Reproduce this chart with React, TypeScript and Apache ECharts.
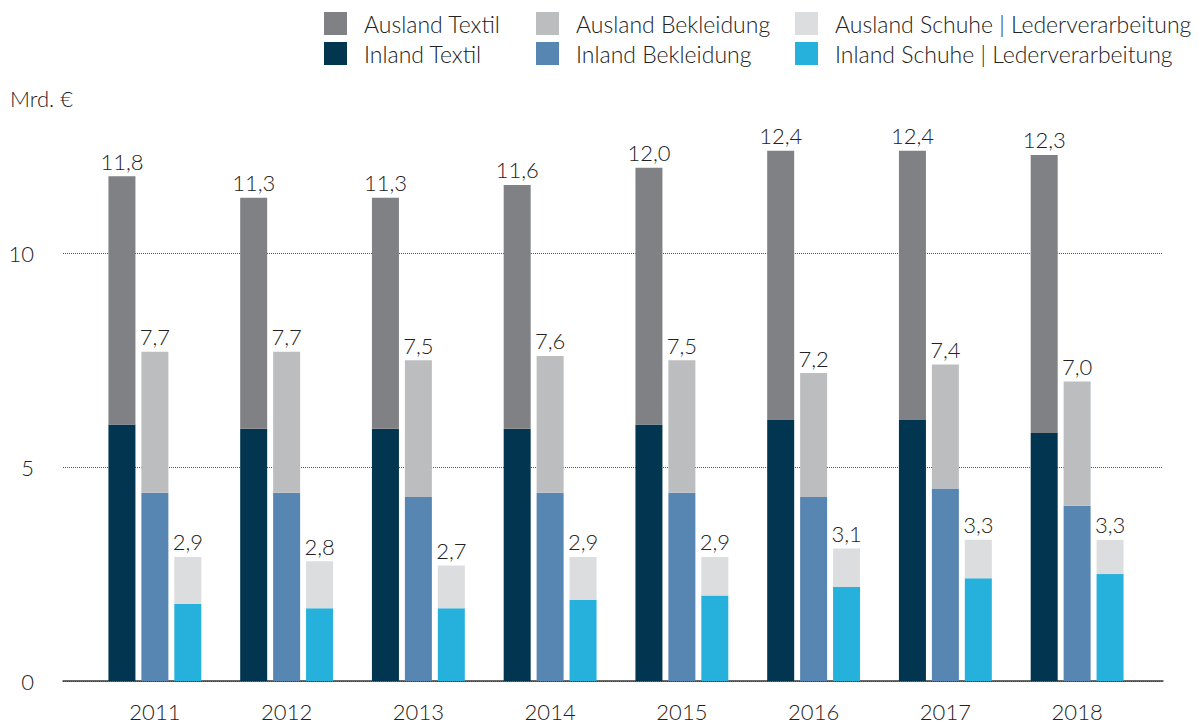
import React, { useEffect, useRef } from "react";
import * as echarts from "echarts";

const years = ["2011", "2012", "2013", "2014", "2015", "2016", "2017", "2018"];
const inlandTextil = [6.0, 5.9, 5.9, 5.9, 6.0, 6.1, 6.1, 5.8];
const auslandTextil = [5.8, 5.4, 5.4, 5.7, 6.0, 6.3, 6.3, 6.5];
const inlandBekleidung = [4.4, 4.4, 4.3, 4.4, 4.4, 4.3, 4.5, 4.1];
const auslandBekleidung = [3.3, 3.3, 3.2, 3.2, 3.1, 2.9, 2.9, 2.9];
const inlandSchuhe = [1.8, 1.7, 1.7, 1.9, 2.0, 2.2, 2.4, 2.5];
const auslandSchuhe = [1.1, 1.1, 1.0, 1.0, 0.9, 0.9, 0.9, 0.8];
const yTicks = [0, 5, 10];

const FONT = "Lato";
const TXT = "#222222";
const NUM_SIZE = 22;

const fmt = (v: number) => v.toFixed(1).replace(".", ",");

export default function App() {
  const ref = useRef<HTMLDivElement>(null);
  useEffect(() => {
    if (!ref.current) return;
    const chart = echarts.init(ref.current, null, { renderer: "svg" });
    const sumLabel = (inl: number[], aus: number[]) => ({
      show: true,
      position: "top" as const,
      distance: 4,
      color: TXT,
      fontFamily: FONT,
      fontWeight: 300 as any,
      fontSize: NUM_SIZE,
      formatter: (p: any) => fmt(inl[p.dataIndex] + aus[p.dataIndex]),
    });
    const barCommon = {
      type: "bar" as const,
      xAxisIndex: 1,
      yAxisIndex: 1,
      barWidth: 27,
      barGap: "22%",
    };
    const legendCommon = {
      orient: "vertical" as const,
      top: 7,
      itemWidth: 23,
      itemHeight: 23,
      itemGap: 7,
      icon: "rect",
      textStyle: {
        fontFamily: FONT,
        fontWeight: 300 as any,
        fontSize: 23,
        color: TXT,
        padding: [0, 0, 0, 12],
      },
    };
    chart.setOption({
      animation: false,
      textStyle: { fontFamily: FONT },
      legend: [
        { ...legendCommon, left: 319, data: ["Ausland Textil", "Inland Textil"] },
        { ...legendCommon, left: 531, data: ["Ausland Bekleidung", "Inland Bekleidung"] },
        {
          ...legendCommon,
          left: 790,
          data: ["Ausland Schuhe | Lederverarbeitung", "Inland Schuhe | Lederverarbeitung"],
        },
      ],
      graphic: [
        {
          type: "text",
          left: 10,
          top: 87,
          style: { text: "Mrd. €", fill: TXT, font: `300 22px ${FONT}` },
        },
      ],
      grid: [
        { left: 63, right: 35, top: 253, bottom: 43 },
        { left: 89, right: 55, top: 125, bottom: 43 },
      ],
      xAxis: [
        {
          gridIndex: 0,
          type: "value",
          min: 0,
          max: 1,
          axisLine: { show: true, onZero: false, lineStyle: { color: "#3a3a3a", width: 1.5 } },
          axisTick: { show: false },
          axisLabel: { show: false },
          splitLine: { show: false },
        },
        {
          gridIndex: 1,
          type: "category",
          data: years,
          axisLine: { show: false },
          axisTick: { show: false },
          axisLabel: {
            color: TXT,
            fontFamily: FONT,
            fontWeight: 300,
            fontSize: NUM_SIZE,
            margin: 19,
          },
        },
      ],
      yAxis: [
        {
          gridIndex: 0,
          type: "value",
          min: yTicks[0],
          max: yTicks[yTicks.length - 1],
          interval: 5,
          axisLine: { show: false },
          axisTick: { show: false },
          axisLabel: {
            color: TXT,
            fontFamily: FONT,
            fontWeight: 300,
            fontSize: NUM_SIZE,
            margin: 29,
          },
          splitLine: { show: true, lineStyle: { color: "#555", type: "dotted", width: 1 } },
        },
        {
          gridIndex: 1,
          type: "value",
          min: 0,
          max: 13,
          show: false,
          splitLine: { show: false },
        },
      ],
      series: [
        { ...barCommon, name: "Inland Textil", stack: "T", data: inlandTextil, itemStyle: { color: "#02354f" } },
        {
          ...barCommon,
          name: "Ausland Textil",
          stack: "T",
          data: auslandTextil,
          itemStyle: { color: "#808185" },
          label: sumLabel(inlandTextil, auslandTextil),
        },
        { ...barCommon, name: "Inland Bekleidung", stack: "B", data: inlandBekleidung, itemStyle: { color: "#5886b2" } },
        {
          ...barCommon,
          name: "Ausland Bekleidung",
          stack: "B",
          data: auslandBekleidung,
          itemStyle: { color: "#bcbdbf" },
          label: sumLabel(inlandBekleidung, auslandBekleidung),
        },
        {
          ...barCommon,
          name: "Inland Schuhe | Lederverarbeitung",
          stack: "S",
          data: inlandSchuhe,
          itemStyle: { color: "#26b0dc" },
        },
        {
          ...barCommon,
          name: "Ausland Schuhe | Lederverarbeitung",
          stack: "S",
          data: auslandSchuhe,
          itemStyle: { color: "#dcdddf" },
          label: sumLabel(inlandSchuhe, auslandSchuhe),
        },
      ],
    });
    return () => chart.dispose();
  }, []);
  return (
    <div
      ref={ref}
      style={{ position: "absolute", left: 0, top: 0, width: 1198, height: 724, background: "#fff" }}
    />
  );
}
